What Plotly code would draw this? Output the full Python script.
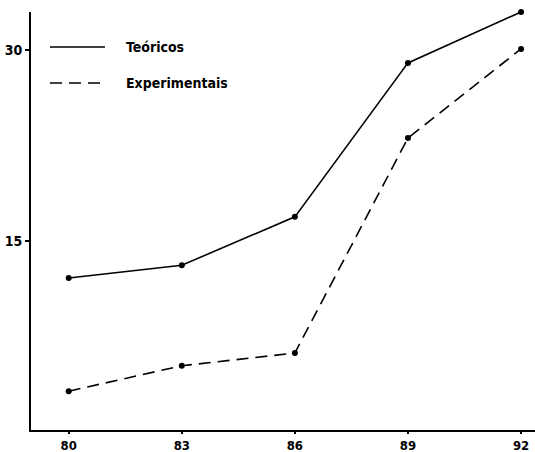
import plotly.graph_objects as go

years = [80, 83, 86, 89, 92]
teoricos = [12.1, 13.1, 16.9, 29.0, 33.0]
experimentais = [3.2, 5.2, 6.2, 23.1, 30.1]
series_names = ["Teóricos", "Experimentais"]
x_ticks = [80, 83, 86, 89, 92]
y_ticks = [15, 30]

FONT = "DejaVu Sans Condensed, Liberation Sans Narrow, sans-serif"
DASH = "12px,7px"

fig = go.Figure()
fig.add_trace(go.Scatter(x=years, y=teoricos, mode="lines+markers", name=series_names[0],
                         line=dict(color="black", width=1.6),
                         marker=dict(color="black", size=6), showlegend=False, cliponaxis=False))
fig.add_trace(go.Scatter(x=years, y=experimentais, mode="lines+markers", name=series_names[1],
                         line=dict(color="black", width=1.6, dash=DASH),
                         marker=dict(color="black", size=6), showlegend=False, cliponaxis=False))

# manual legend
L, T, W, H = 31, 12, 504, 418
def px(x): return (x - L) / W
def py(y): return (T + H - y) / H
for i, (ypix, dash) in enumerate([(47, "solid"), (83, DASH)]):
    fig.add_shape(type="line", xref="paper", yref="paper",
                  x0=px(50), x1=px(105), y0=py(ypix), y1=py(ypix),
                  line=dict(color="black", width=1.4, dash=dash))
    fig.add_annotation(xref="paper", yref="paper", x=px(124), y=py(ypix),
                       text="<b>" + series_names[i] + "</b>", showarrow=False,
                       xanchor="left", yanchor="middle",
                       font=dict(family=FONT, size=14, color="black"))

fig.update_layout(
    width=535, height=452,
    margin=dict(l=L, r=0, t=T, b=452 - T - H, autoexpand=False),
    plot_bgcolor="white", paper_bgcolor="white",
    font=dict(family=FONT, size=14, color="black"),
)
fig.update_xaxes(range=[79, 92.37], tickvals=x_ticks, automargin=False,
                 ticktext=["<b>%d</b>" % v for v in x_ticks],
                 tickfont=dict(size=13),
                 showgrid=False, zeroline=False, showline=True, linecolor="black", linewidth=2,
                 ticks="outside", ticklen=2, tickwidth=1.5, tickcolor="black", ticklabelstandoff=0)
fig.update_yaxes(range=[0.15, 33.0], tickvals=y_ticks, automargin=False,
                 ticktext=["<b>%d</b>" % v for v in y_ticks],
                 showgrid=False, zeroline=False, showline=True, linecolor="black", linewidth=2,
                 ticks="outside", ticklen=4, tickwidth=1.5, tickcolor="black")

fig.write_html("out.html", config={"displayModeBar": False})

# remove default page margin so the figure fills the window exactly
with open("out.html", "r", encoding="utf-8") as f:
    html = f.read()
html = html.replace("<head>", "<head><style>html,body{margin:0;padding:0;overflow:hidden;}</style>", 1)
with open("out.html", "w", encoding="utf-8") as f:
    f.write(html)
